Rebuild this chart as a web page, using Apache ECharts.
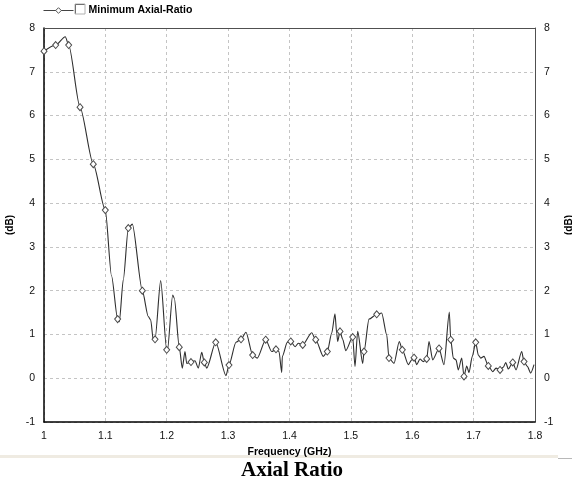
<!DOCTYPE html>
<html>
<head>
<meta charset="utf-8">
<script src="https://cdn.jsdelivr.net/npm/echarts@6/dist/echarts.min.js"></script>
<style>
html,body{margin:0;padding:0;background:#fff;}
#chart{width:572px;height:486px;}
</style>
</head>
<body>
<div id="chart"></div>
<script>
// Frequency (GHz) of the curve vertices
var freq = [1.000, 1.019, 1.0347, 1.0402, 1.0587, 1.0803, 1.0999, 1.110, 1.120, 1.1227,
  1.1292, 1.1374, 1.1439, 1.1602, 1.1699, 1.1739, 1.1781, 1.1809, 1.1901, 1.1999,
  1.2009, 1.2097, 1.2123, 1.2204, 1.2253, 1.2297, 1.2325, 1.2395, 1.2460, 1.2514,
  1.2570, 1.2612, 1.2651, 1.2798, 1.2965, 1.3014, 1.3128, 1.3210, 1.3291, 1.3400,
  1.3475, 1.3612, 1.3710, 1.3780, 1.3829, 1.3873, 1.3883, 1.3964, 1.4020, 1.4090,
  1.4143, 1.4215, 1.4362, 1.4427, 1.4551, 1.4616, 1.4688, 1.4741, 1.4769, 1.4785,
  1.4823, 1.4867, 1.4916, 1.5030, 1.5067, 1.5111, 1.5193, 1.5214, 1.5295, 1.5421,
  1.5502, 1.5584, 1.5621, 1.5703, 1.5789, 1.5838, 1.5936, 1.5991, 1.6029, 1.6073,
  1.6126, 1.6180, 1.6235, 1.6273, 1.6333, 1.6436, 1.6517, 1.6604, 1.6627, 1.6669,
  1.6713, 1.6750, 1.6806, 1.6843, 1.6887, 1.6925, 1.6978, 1.7034, 1.7076, 1.7115,
  1.7169, 1.7239, 1.7311, 1.7365, 1.7430, 1.7484, 1.7523, 1.7565, 1.7637, 1.7691,
  1.7783, 1.7821, 1.7875, 1.7930, 1.7984];

// Minimum axial ratio (dB)
var axialRatio = [7.47, 7.61, 7.80, 7.61, 6.19, 4.89, 3.84, 2.34, 1.35, 1.29,
  2.25, 3.43, 3.52, 2.00, 1.41, 1.33, 0.86, 0.89, 2.23, 0.65,
  0.61, 1.90, 1.83, 0.71, 0.23, 0.61, 0.34, 0.37, 0.40, 0.23,
  0.59, 0.36, 0.23, 0.82, 0.06, 0.30, 0.82, 0.89, 1.05, 0.53,
  0.46, 0.88, 0.61, 0.66, 0.61, 0.13, 0.50, 0.82, 0.84, 0.72,
  0.80, 0.76, 1.04, 0.88, 0.50, 0.61, 1.03, 1.47, 1.03, 0.84,
  1.07, 0.89, 0.63, 0.94, 0.27, 1.07, 0.34, 0.61, 1.35, 1.46,
  1.49, 0.99, 0.46, 0.34, 0.84, 0.65, 0.31, 0.42, 0.47, 0.31,
  0.44, 0.38, 0.44, 0.84, 0.42, 0.68, 0.31, 1.51, 0.88, 0.46,
  0.42, 0.19, 0.46, 0.04, 0.28, 0.13, 0.50, 0.82, 0.53, 0.46,
  0.50, 0.28, 0.15, 0.23, 0.19, 0.25, 0.36, 0.21, 0.36, 0.19,
  0.61, 0.38, 0.27, 0.12, 0.31];

// Frequencies that carry a diamond marker
var markerFreq = [1.000, 1.019, 1.0402, 1.0587, 1.0803, 1.0999, 1.120, 1.1374, 1.1602, 1.1809,
  1.1999, 1.2204, 1.2395, 1.2612, 1.2798, 1.3014, 1.3210, 1.3400, 1.3612, 1.3780,
  1.4020, 1.4215, 1.4427, 1.4616, 1.4823, 1.5030, 1.5214, 1.5421, 1.5621, 1.5838,
  1.6029, 1.6235, 1.6436, 1.6627, 1.6843, 1.7034, 1.7239, 1.7430, 1.7637, 1.7821];

var xTicks = ['1', '1.1', '1.2', '1.3', '1.4', '1.5', '1.6', '1.7', '1.8'];
var yTicks = ['-1', '0', '1', '2', '3', '4', '5', '6', '7', '8'];
var seriesName = 'Minimum Axial-Ratio';
var chartTitle = 'Axial Ratio';
var xName = 'Frequency (GHz)';
var yName = '(dB)';

var lineData = freq.map(function (f, i) {
  var isMarker = markerFreq.indexOf(f) >= 0;
  return { value: [f, axialRatio[i]], symbol: isMarker ? 'diamond' : 'none' };
});

var FONT = '"Liberation Sans", Arial, sans-serif';
var chart = echarts.init(document.getElementById('chart'), null, { renderer: 'canvas' });

var option = {
  backgroundColor: '#ffffff',
  animation: false,
  title: {
    text: chartTitle,
    left: 241, top: 460,
    padding: 0,
    textStyle: { fontFamily: '"Liberation Serif", "Times New Roman", serif', fontWeight: 'bold', fontSize: 21, color: '#000' }
  },
  legend: {
    left: 43, top: 5, padding: 0,
    itemWidth: 30, itemHeight: 7,
    data: [seriesName],
    lineStyle: { width: 1, color: '#444' },
    itemStyle: { color: '#fff', borderColor: '#555', borderWidth: 1 },
    textStyle: { fontFamily: FONT, fontWeight: 'bold', fontSize: 10.5, color: '#000', padding: [0, 0, 0, 10] },
    selectedMode: false
  },
  grid: { left: 44, right: 37, top: 28, bottom: 64, outerBoundsMode: 'none', containLabel: false },
  xAxis: [{
    type: 'value', min: 1, max: 1.8, interval: 0.1,
    position: 'bottom',
    name: xName, nameLocation: 'middle', nameGap: 19,
    nameTextStyle: { fontFamily: FONT, fontWeight: 'bold', fontSize: 10.5, color: '#000' },
    axisLine: { show: true, onZero: false, lineStyle: { color: '#000', width: 1.5 } },
    axisTick: { show: false },
    axisLabel: {
      margin: 9, fontFamily: FONT, fontSize: 10.5, color: '#111',
      formatter: function (v) { return xTicks[Math.round((v - 1) * 10)]; }
    },
    splitLine: { show: true, lineStyle: { color: '#c4c4c4', type: [3, 3], width: 1 } }
  }, {
    type: 'value', min: 1, max: 1.8, interval: 0.1,
    position: 'top',
    axisLine: { show: true, onZero: false, lineStyle: { color: '#505050', width: 1 } },
    axisTick: { show: false }, axisLabel: { show: false }, splitLine: { show: false }
  }],
  yAxis: [{
    type: 'value', min: -1, max: 8, interval: 1,
    position: 'left',
    name: yName, nameLocation: 'middle', nameGap: 28.5, nameRotate: 90,
    nameTextStyle: { fontFamily: FONT, fontWeight: 'bold', fontSize: 10, color: '#000' },
    axisLine: { show: true, onZero: false, lineStyle: { color: '#000', width: 1.5 } },
    axisTick: { show: false },
    axisLabel: {
      margin: 9, fontFamily: FONT, fontSize: 10.5, color: '#111',
      formatter: function (v) { return yTicks[Math.round(v + 1)]; }
    },
    splitLine: { show: true, lineStyle: { color: '#c4c4c4', type: [3, 3], width: 1 } }
  }, {
    type: 'value', min: -1, max: 8, interval: 1,
    position: 'right',
    name: yName, nameLocation: 'middle', nameGap: 25, nameRotate: 90,
    nameTextStyle: { fontFamily: FONT, fontWeight: 'bold', fontSize: 10, color: '#000' },
    axisLine: { show: true, onZero: false, lineStyle: { color: '#505050', width: 1 } },
    axisTick: { show: false },
    axisLabel: {
      margin: 9, fontFamily: FONT, fontSize: 10.5, color: '#111',
      formatter: function (v) { return yTicks[Math.round(v + 1)]; }
    },
    splitLine: { show: false }
  }],
  series: [{
    name: seriesName,
    type: 'line',
    xAxisIndex: 0, yAxisIndex: 0,
    data: lineData,
    smooth: 0.25,
    smoothMonotone: 'x',
    showAllSymbol: true,
    symbol: 'diamond',
    symbolSize: [6, 7],
    lineStyle: { color: '#2e2e2e', width: 1.1 },
    itemStyle: { color: '#ffffff', borderColor: '#4a4a4a', borderWidth: 1 },
    emphasis: { disabled: true }
  }],
  graphic: [
    { type: 'rect', shape: { x: 75, y: 4, width: 10, height: 10 }, style: { fill: '#fff', stroke: '#b0b0b0', lineWidth: 1 } },
    { type: 'polyline', shape: { points: [[75.5, 13.5], [75.5, 4.5], [84.5, 4.5]] }, style: { stroke: '#707070', lineWidth: 1, fill: null } },
    { type: 'rect', shape: { x: 0, y: 455, width: 558, height: 3 }, style: { fill: '#efebe2' } },
    { type: 'rect', shape: { x: 558, y: 458, width: 14, height: 1 }, style: { fill: '#b8b8b8' } }
  ]
};
chart.setOption(option);
</script>
</body>
</html>
